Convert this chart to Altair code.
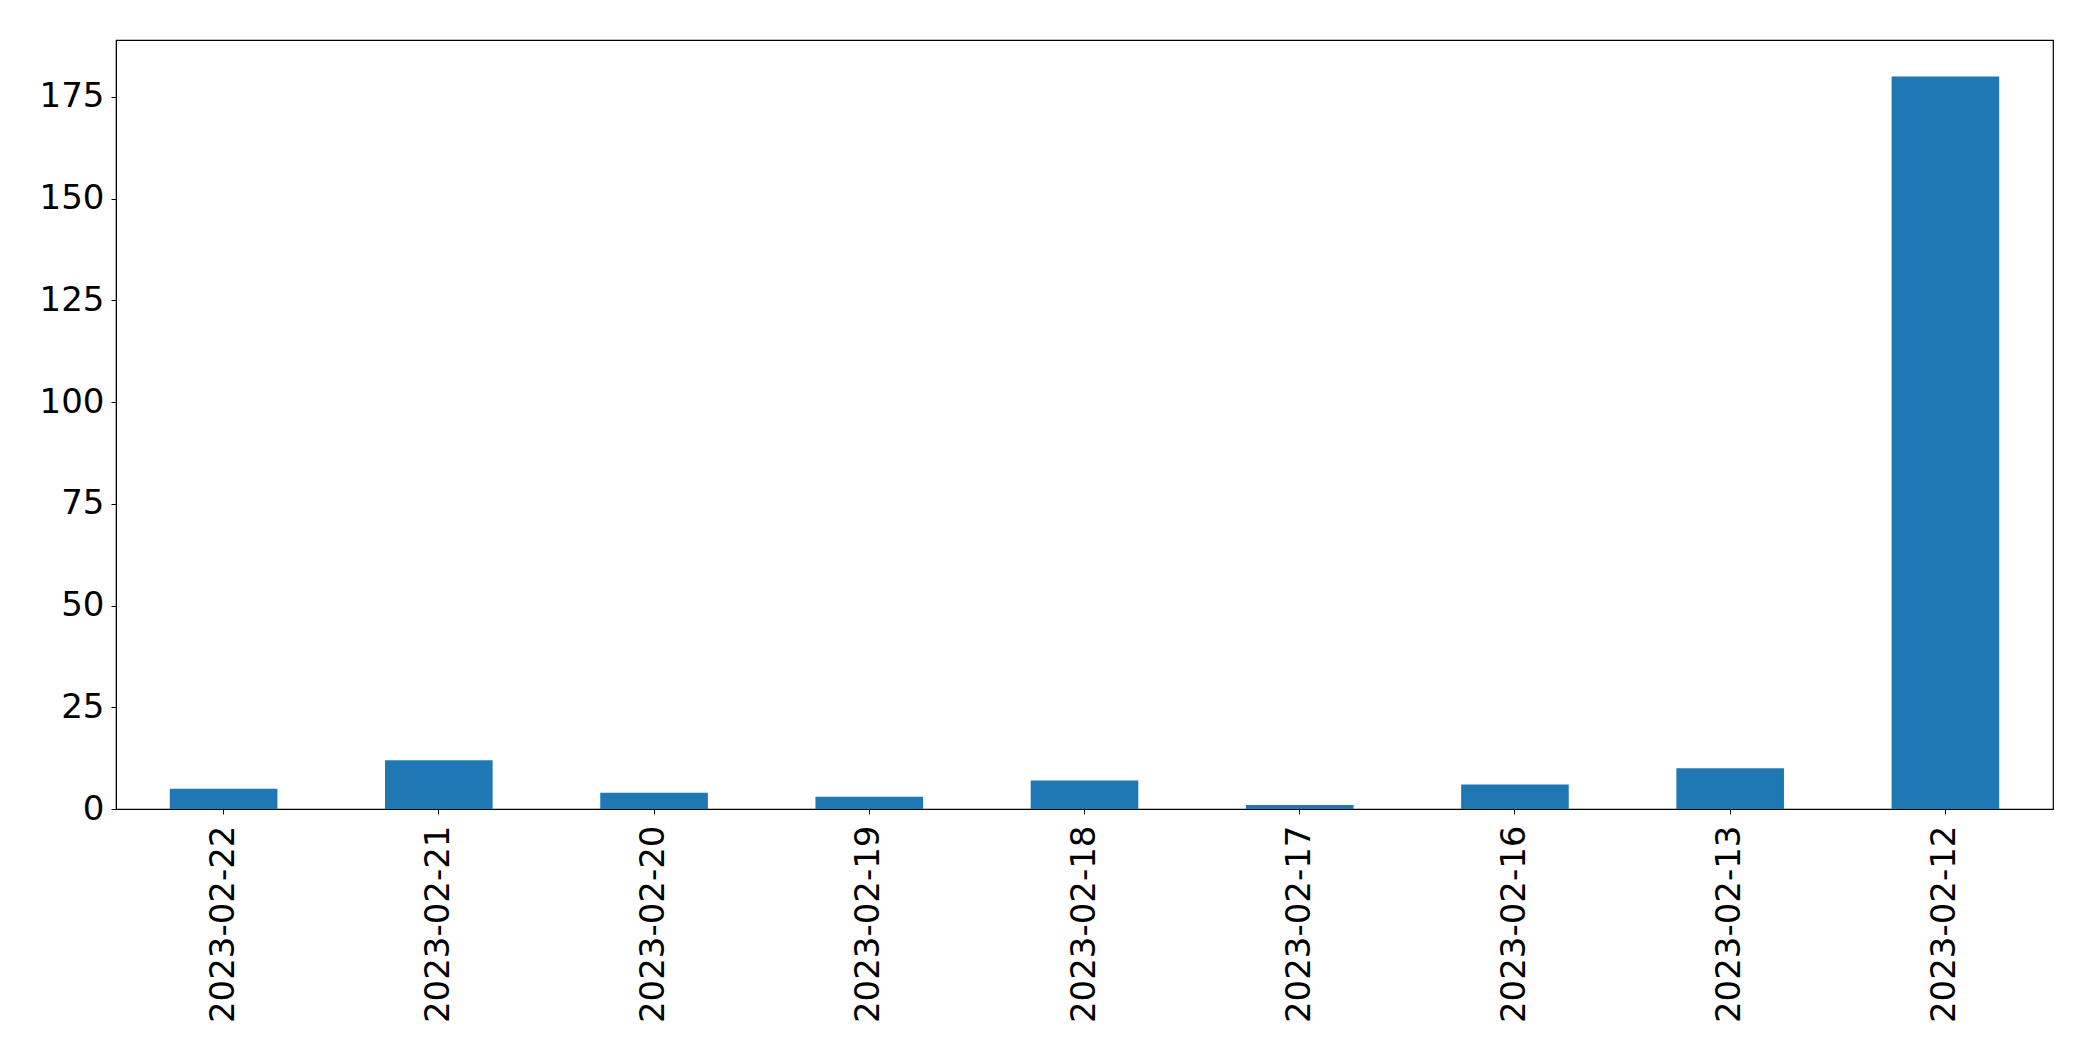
import altair as alt
import pandas as pd

dates = ["2023-02-22", "2023-02-21", "2023-02-20", "2023-02-19", "2023-02-18",
         "2023-02-17", "2023-02-16", "2023-02-13", "2023-02-12"]
counts = [5, 12, 4, 3, 7, 1, 6, 10, 180]
y_ticks = [0, 25, 50, 75, 100, 125, 150, 175]

df = pd.DataFrame({"date": dates, "count": counts})

chart = alt.Chart(df).mark_bar(color="#1f77b4").encode(
    x=alt.X("date:N", sort=dates,
            scale=alt.Scale(paddingInner=0.5, paddingOuter=0.25),
            axis=alt.Axis(title=None, labelAngle=-90, labelFont="DejaVu Sans",
                          labelFontSize=34, labelColor="black", tickColor="black",
                          domainColor="black", tickSize=5, labelPadding=11,
                          labelAlign="right", labelBaseline="middle", labelLimit=0)),
    y=alt.Y("count:Q", scale=alt.Scale(domain=[0, 189], nice=False, zero=True),
            axis=alt.Axis(title=None, values=y_ticks, grid=False, labelFont="DejaVu Sans",
                          labelFontSize=34, labelColor="black", tickColor="black",
                          domainColor="black", tickSize=5, labelPadding=7)),
).properties(
    width=1937, height=769,
    autosize=alt.AutoSizeParams(type="none"),
    padding={"left": 108, "top": 32, "right": 30, "bottom": 230},
).configure_view(stroke="black", strokeWidth=1.2)

chart.save("out.html", embed_options={"renderer": "svg", "actions": False})
